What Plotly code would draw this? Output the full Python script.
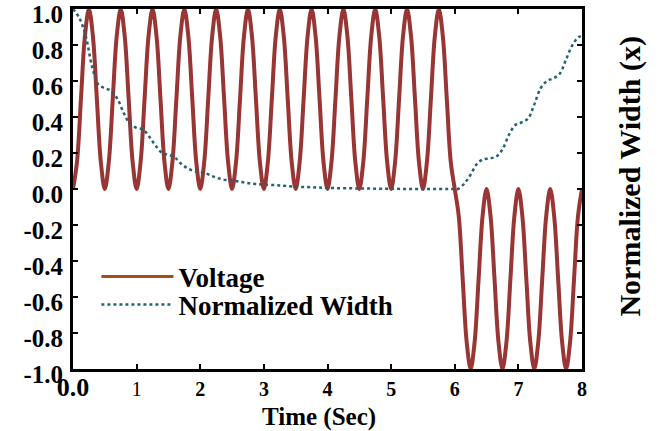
import plotly.graph_objects as go

# ---- data ----
time_v = [i / 16 for i in range(129)]  # sample grid, 1/16 s
voltage = [
    0, 0.15, 0.5, 0.85, 1, 0.85, 0.5, 0.15,
    0, 0.15, 0.5, 0.85, 1, 0.85, 0.5, 0.15,
    0, 0.15, 0.5, 0.85, 1, 0.85, 0.5, 0.15,
    0, 0.15, 0.5, 0.85, 1, 0.85, 0.5, 0.15,
    0, 0.15, 0.5, 0.85, 1, 0.85, 0.5, 0.15,
    0, 0.15, 0.5, 0.85, 1, 0.85, 0.5, 0.15,
    0, 0.15, 0.5, 0.85, 1, 0.85, 0.5, 0.15,
    0, 0.15, 0.5, 0.85, 1, 0.85, 0.5, 0.15,
    0, 0.15, 0.5, 0.85, 1, 0.85, 0.5, 0.15,
    0, 0.15, 0.5, 0.85, 1, 0.85, 0.5, 0.15,
    0, 0.15, 0.5, 0.85, 1, 0.85, 0.5, 0.15,
    0, 0.15, 0.5, 0.85, 1, 0.85, 0.5, 0.15,
    0, -0.15, -0.5, -0.85, -1, -0.85, -0.5, -0.15,
    0, -0.15, -0.5, -0.85, -1, -0.85, -0.5, -0.15,
    0, -0.15, -0.5, -0.85, -1, -0.85, -0.5, -0.15,
    0, -0.15, -0.5, -0.85, -1, -0.85, -0.5, -0.15,
    0,
]

time_w = [0.0, 0.1, 0.2, 0.3, 0.4, 0.5, 0.6, 0.7, 0.8, 0.9, 1.0, 1.1, 1.2, 1.3,
          1.4, 1.5, 1.6, 1.7, 1.8, 1.9, 2.0, 2.1, 2.2, 2.3, 2.4, 2.5, 2.6, 2.7,
          2.8, 2.9, 3.0, 3.25, 3.5, 3.75, 4.0, 4.5, 5.0, 5.5, 6.0, 6.05, 6.15,
          6.25, 6.35, 6.45, 6.55, 6.65, 6.75, 6.85, 6.95, 7.05, 7.15, 7.25,
          7.35, 7.45, 7.55, 7.65, 7.75, 7.85, 7.95, 8.0]
width = [1.0, 0.95, 0.85, 0.68, 0.58, 0.56, 0.545, 0.50, 0.42, 0.36, 0.34, 0.33,
         0.29, 0.24, 0.20, 0.19, 0.175, 0.14, 0.115, 0.10, 0.095, 0.085, 0.07,
         0.058, 0.05, 0.047, 0.042, 0.035, 0.03, 0.027, 0.025, 0.02, 0.013, 0.01,
         0.006, 0.003, 0.001, 0.0, 0.0, 0.0, 0.03, 0.08, 0.14, 0.165, 0.17, 0.18,
         0.22, 0.30, 0.355, 0.37, 0.39, 0.47, 0.56, 0.60, 0.615, 0.64, 0.72,
         0.80, 0.845, 0.85]

x_ticks = [0, 1, 2, 3, 4, 5, 6, 7, 8]
x_ticktext = ["<span style='font-size:26px'>0.0</span>",
              "<span style='font-weight:normal'>1</span>",
              "2", "3", "4", "5", "6", "7", "8"]
y_ticks = [-1.0, -0.8, -0.6, -0.4, -0.2, 0.0, 0.2, 0.4, 0.6, 0.8, 1.0]
y_ticktext = ["-1.0", "-0.8", "-0.6", "-0.4", "-0.2", "0.0", "0.2", "0.4",
              "0.6", "0.8", "1.0"]

FONT = "Liberation Serif"

fig = go.Figure()
fig.add_trace(go.Scatter(x=time_v, y=voltage, mode="lines", showlegend=False,
                         line=dict(color="#993535", width=4, shape="spline")))
fig.add_trace(go.Scatter(x=time_w, y=width, mode="lines", showlegend=False,
                         line=dict(color="#22636f", width=2.5, dash="dot",
                                   shape="spline")))
# legend entries
fig.add_trace(go.Scatter(x=[None], y=[None], mode="lines", name="Voltage",
                         legend="legend",
                         line=dict(color="#a34f1c", width=3)))
fig.add_trace(go.Scatter(x=[None], y=[None], mode="lines",
                         name="Normalized Width", legend="legend2",
                         line=dict(color="#22636f", width=2.5, dash="dot")))

axis_common = dict(showline=True, linecolor="black", linewidth=3,
                   mirror="ticks", ticks="inside", ticklen=5, tickwidth=1.5,
                   tickcolor="black", showgrid=False, zeroline=False,
                   automargin=False, ticklabeloverflow="allow")

leg_common = dict(xanchor="left", yanchor="middle", bgcolor="rgba(0,0,0,0)",
                  font=dict(family=FONT, size=27, weight="bold"),
                  itemwidth=72)

fig.update_layout(
    width=666, height=431,
    margin=dict(l=73, r=84, t=9, b=62),
    plot_bgcolor="white", paper_bgcolor="white",
    font=dict(family=FONT, color="black"),
    xaxis=dict(range=[0, 8], tickvals=x_ticks, ticktext=x_ticktext,
               tickfont=dict(family=FONT, size=20, weight="bold"),
               **axis_common),
    yaxis=dict(range=[-1.0, 1.0], tickvals=y_ticks, ticktext=y_ticktext,
               tickfont=dict(family=FONT, size=25, weight="bold"),
               ticklabelstandoff=2, ticklabelshift=5,
               **axis_common),
    legend=dict(x=0.046, y=(369 - 277) / 360, **leg_common),
    legend2=dict(x=0.046, y=(369 - 305) / 360, **leg_common),
    annotations=[
        dict(text="Normalized Width (x)", textangle=-90,
             xref="paper", yref="paper", x=1.132, y=0.535,
             showarrow=False,
             font=dict(family=FONT, size=30, weight="bold")),
        dict(text="Time (Sec)", xref="paper", yref="paper",
             x=(319 - 73) / 509, y=(369 - 417) / 360,
             xanchor="center", yanchor="middle", showarrow=False,
             font=dict(family=FONT, size=25, weight="bold")),
    ],
)

fig.write_html("out.html", config={"displayModeBar": False},
               post_script="document.body.style.margin='0';"
                           "document.body.style.overflow='hidden';")
